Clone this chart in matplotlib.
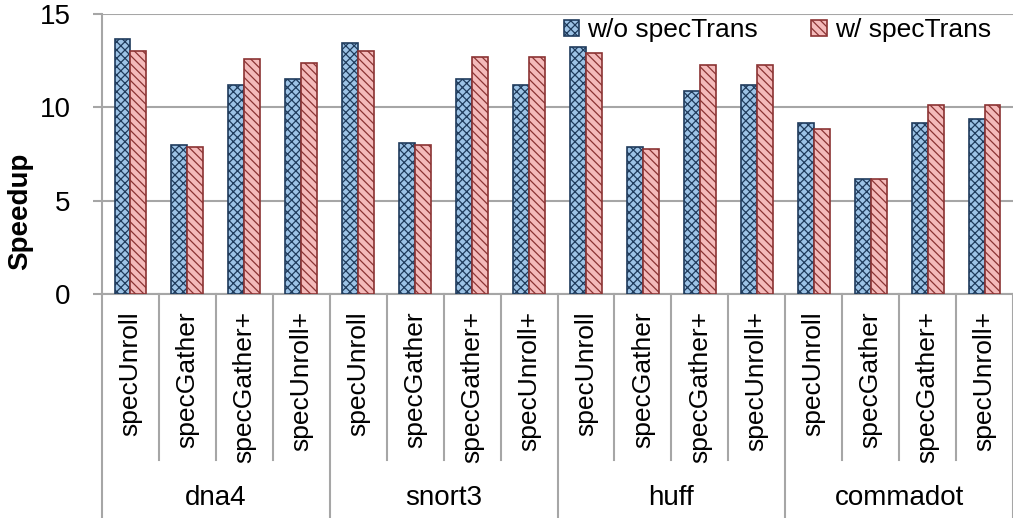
import numpy as np
import matplotlib
matplotlib.use("Agg")
import matplotlib.pyplot as plt
import matplotlib.transforms as mtransforms

plt.rcParams['font.family'] = ['Liberation Sans', 'DejaVu Sans']
plt.rcParams['hatch.linewidth'] = 0.9

groups = ['dna4', 'snort3', 'huff', 'commadot']
variants = ['specUnroll', 'specGather', 'specGather+', 'specUnroll+']

# speedup per group, in variant order
wo_spectrans = [13.64, 7.95, 11.18, 11.50,
                13.41, 8.06, 11.48, 11.16,
                13.19, 7.84, 10.86, 11.16,
                9.13, 6.13, 9.13, 9.34]
w_spectrans = [13.00, 7.86, 12.57, 12.37,
               13.00, 7.95, 12.66, 12.66,
               12.89, 7.74, 12.23, 12.23,
               8.81, 6.13, 10.09, 10.09]

n = len(wo_spectrans)
x = np.arange(n)
bw = 0.28
grid_c = '#a6a6a6'

fig = plt.figure(figsize=(10.13, 5.18), dpi=100)
ax = fig.add_axes([0.1007, 0.4324, 0.8993, 0.5415])

ax.bar(x - bw / 2, wo_spectrans, bw, color='#9dc3e6', edgecolor='#1f3b5c',
       hatch='xxxx', linewidth=1.2, label='w/o specTrans', zorder=3)
ax.bar(x + bw / 2, w_spectrans, bw, color='#f4baba', edgecolor='#8b3333',
       hatch='\\\\\\\\', linewidth=1.2, label='w/ specTrans', zorder=3)

ax.set_xlim(-0.5, n - 0.5)
ax.set_ylim(0, 15)
ax.set_yticks([0, 5, 10, 15])
ax.yaxis.grid(True, color=grid_c, linewidth=1.5)
ax.set_axisbelow(True)
ax.set_xticks([])
ax.tick_params(axis='y', length=6.5, width=1.5, color=grid_c, labelsize=20, pad=16)
for s in ['top', 'right']:
    ax.spines[s].set_visible(False)
for s in ['left', 'bottom']:
    ax.spines[s].set_color(grid_c)
    ax.spines[s].set_linewidth(1.5)

ax.set_ylabel('Speedup', fontsize=20, fontweight='bold')
ax.yaxis.set_label_coords(-0.076, 0.296)

# two-level category axis below the plot
trans = mtransforms.blended_transform_factory(ax.transData, ax.transAxes)
ax_h = 0.5415 * 518
y_sub = -(460 - 294) / ax_h
y_grp = -(518 - 294) / ax_h - 0.02
for i in range(n + 1):
    bottom = y_grp if i % len(variants) == 0 else y_sub
    ax.plot([i - 0.5, i - 0.5], [0, bottom], transform=trans, color=grid_c,
            linewidth=1.5, clip_on=False)
for i in range(n):
    ax.text(x[i], -17 / ax_h, variants[i % len(variants)], transform=trans,
            rotation=90, ha='center', va='top', fontsize=19)
for g, name in enumerate(groups):
    cx = g * len(variants) + (len(variants) - 1) / 2
    ax.text(cx, -(498 - 294) / ax_h, name, transform=trans,
            ha='center', va='center', fontsize=20)

ax.legend(loc='upper right', ncol=2, frameon=False, fontsize=19,
          handlelength=0.6, handleheight=0.6, handletextpad=0.3,
          columnspacing=2.0, borderaxespad=0.1, bbox_to_anchor=(0.99, 1.03))

fig.savefig('out.png', dpi=100)
